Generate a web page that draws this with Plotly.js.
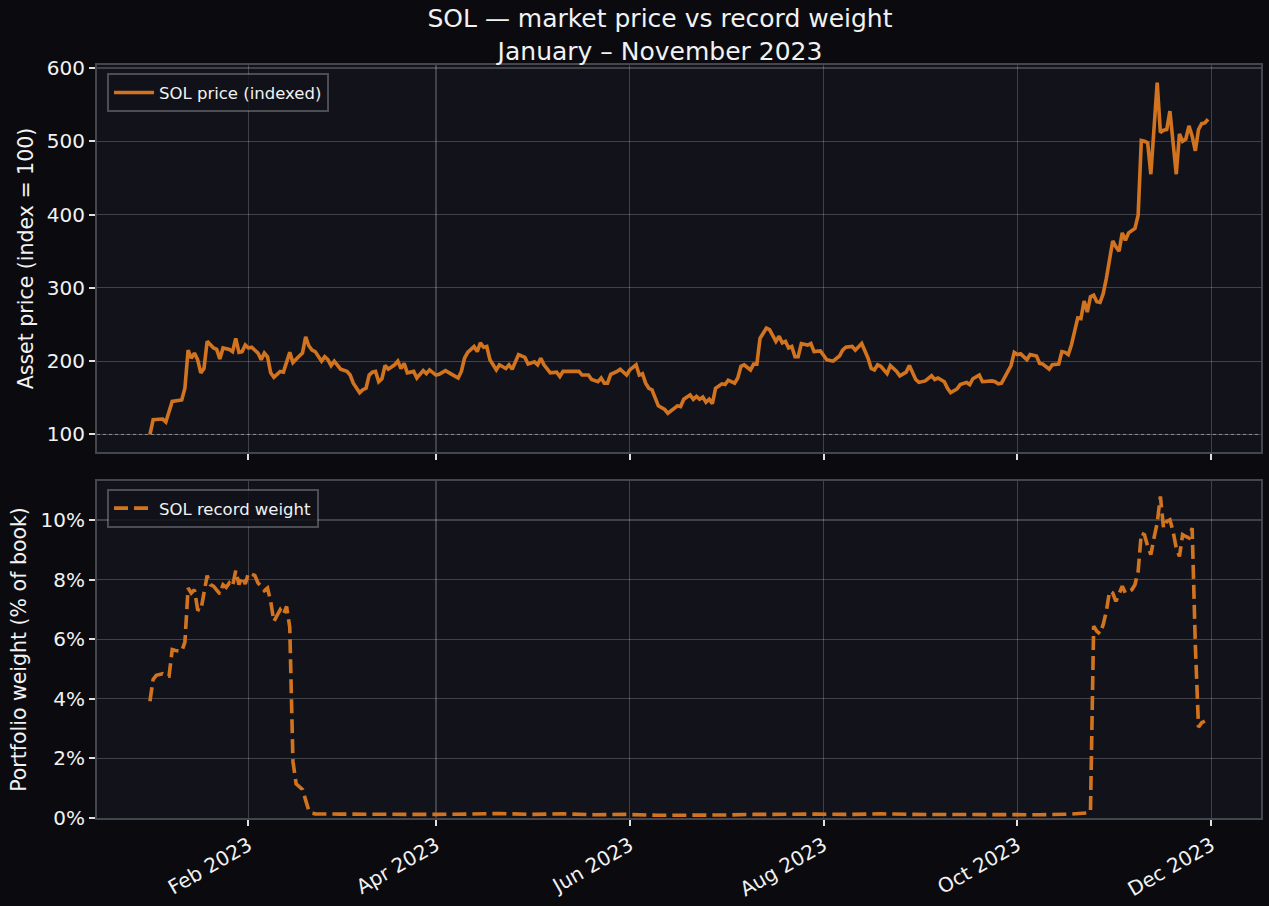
<!DOCTYPE html>
<html>
<head>
<meta charset="utf-8">
<script src="https://cdn.plot.ly/plotly-3.0.1.min.js"></script>
<style>
  html, body { margin: 0; padding: 0; background: #0b0b0f; }
  #chart { width: 1269px; height: 906px; }
</style>
</head>
<body>
<div id="chart"></div>
<script>
// Day offsets are days after 2023-01-01
const priceDay = [0,1,4,5,7,10,11,12,13,14,15,16,17,18,20,21,22,23,25,26,27,28,29,30,31,32,34,35,36,37,38,39,41,42,44,45,47,48,49,50,51,52,54,55,56,57,58,60,62,63,64,66,67,68,69,70,
  71,72,73,74,75,77,78,79,80,81,83,84,86,87,88,90,91,93,95,97,98,99,100,102,103,104,105,106,107,108,109,110,112,113,114,116,118,119,121,122,123,124,126,128,129,130,132,134,135,136,138,139,141,142,143,144,145,147,148,150,151,153,154,155,156,157,
  158,160,161,162,163,165,166,167,168,170,171,172,173,174,175,176,177,178,180,181,182,184,185,186,187,189,190,191,192,194,195,197,198,199,200,201,202,203,204,205,207,208,209,211,213,214,215,217,218,219,221,222,224,226,227,228,229,230,232,233,235,236,238,239,240,241,242,
  244,246,247,248,250,251,252,254,255,257,258,259,261,262,265,266,267,268,269,270,271,272,273,274,276,277,279,280,281,283,284,286,287,288,289,290,291,292,293,294,295,296,297,298,299,300,301,302,303,304,305,306,307,308,310,311,312,313,314,315,317,318,319,320,321,323,324,325,326,327,328,329,330,331,332,333];
const priceVal = [100,120,121,117,145,147,163,215,204,211,202,184,190,227,218,216,203,218,216,213,231,212,213,222,218,219,211,202,211,206,184,178,186,185,212,198,207,211,233,221,215,213,200,206,202,194,200,189,186,181,170,157,161,163,181,185,
  186,172,176,194,189,195,200,190,197,184,186,177,187,183,188,181,182,187,182,177,186,204,212,220,213,225,219,220,202,196,188,195,190,195,189,209,205,196,199,195,204,195,184,185,179,186,186,187,186,181,181,175,172,177,170,170,182,186,189,181,188,195,181,183,170,163,
  161,139,136,134,129,135,139,138,148,154,148,152,148,151,144,148,142,163,169,168,174,170,177,193,195,188,196,196,231,245,243,227,234,225,227,218,220,206,206,224,222,224,213,214,202,201,200,207,215,219,220,215,224,204,190,188,195,193,183,194,186,180,185,194,184,175,171,
  173,180,175,177,172,163,157,162,168,171,168,176,181,172,173,172,169,170,178,184,194,212,209,210,202,209,207,197,196,189,195,196,213,212,209,222,240,259,258,282,267,288,290,281,280,292,313,342,364,356,350,375,365,375,381,399,501,500,498,455,580,512,515,516,541,455,510,500,503,521,507,487,516,524,525,530];

const weightDay = [0,1,2,4,5,6,7,8,10,11,12,13,14,15,16,17,18,19,20,22,23,24,25,26,27,28,29,30,31,33,34,35,36,37,38,39,40,41,42,43,44,45,46,47,48,49,50,51,
  52,60,70,80,90,100,110,120,130,140,150,160,170,180,190,200,210,220,230,240,250,260,270,280,290,295,296,
  297,298,299,300,301,302,303,304,305,306,307,309,310,311,312,313,314,315,316,317,318,319,320,321,322,323,324,325,326,327,328,329,330,331,332];
const weightPct = [3.92,4.65,4.79,4.84,4.76,4.76,5.65,5.62,5.6,5.9,7.72,7.55,7.66,7.0,6.96,7.6,8.14,7.83,7.78,7.52,7.83,7.74,7.89,7.78,8.3,7.83,8.1,7.85,8.22,8.14,7.89,7.78,7.63,7.72,7.27,6.6,6.83,6.99,6.83,7.1,6.4,1.9,1.15,1.07,0.96,0.6,0.25,0.16,
  0.14,0.13,0.12,0.14,0.12,0.13,0.15,0.12,0.14,0.11,0.12,0.09,0.08,0.1,0.12,0.14,0.13,0.12,0.14,0.12,0.11,0.12,0.1,0.11,0.13,0.17,0.22,
  6.44,6.27,6.18,6.49,6.94,7.61,7.55,7.27,7.5,7.78,7.55,7.66,7.83,8.28,9.56,9.51,9.12,8.84,9.4,9.9,10.79,9.73,9.96,10.01,9.62,9.06,8.78,9.51,9.45,9.4,9.73,5.8,3.05,3.2,3.25,3.28];

const tickDates = ['2023-02-01','2023-04-01','2023-06-01','2023-08-01','2023-10-01','2023-12-01'];
const tickText = ['Feb 2023','Apr 2023','Jun 2023','Aug 2023','Oct 2023','Dec 2023'];
const priceTicks = [100,200,300,400,500,600];
const weightTicks = [0,2,4,6,8,10];
const weightTickText = ['0%','2%','4%','6%','8%','10%'];
const baseIndex = 100;

function toDate(d) {
  const t = new Date(Date.UTC(2023, 0, 1 + d));
  return t.toISOString().slice(0, 10);
}

const ORANGE = '#d2741f';
const GRID = 'rgba(255,255,255,0.2)';
const SPINE = '#44464e';
const TXT = '#f2f2f2';
const FONT = 'DejaVu Sans';
const xRange = ['2022-12-15 08:00', '2023-12-16 16:00'];

const traces = [
  {
    x: priceDay.map(toDate), y: priceVal, type: 'scatter', mode: 'lines',
    name: 'SOL price (indexed)', xaxis: 'x', yaxis: 'y', legend: 'legend',
    line: { color: ORANGE, width: 3.6 }
  },
  {
    x: weightDay.map(toDate), y: weightPct, type: 'scatter', mode: 'lines',
    name: 'SOL record weight', xaxis: 'x2', yaxis: 'y2', legend: 'legend2',
    line: { color: ORANGE, width: 3.6, dash: '14px,6px' }
  }
];

const axisCommon = {
  showgrid: true, gridcolor: GRID, gridwidth: 1.2,
  showline: true, linecolor: SPINE, linewidth: 2, mirror: true,
  ticks: 'outside', ticklen: 6, tickwidth: 2, tickcolor: '#e0e0e0',
  tickfont: { family: FONT, size: 20, color: TXT },
  zeroline: false
};

const legendCommon = {
  bgcolor: 'rgba(18,19,26,0.85)', bordercolor: 'rgba(255,255,255,0.25)', borderwidth: 2,
  font: { family: FONT, size: 16.5, color: TXT }, itemwidth: 40,
  xref: 'paper', yref: 'paper', xanchor: 'left', yanchor: 'top'
};

const layout = {
  width: 1269, height: 906,
  paper_bgcolor: '#0b0b0f', plot_bgcolor: '#12131a',
  font: { family: FONT, color: TXT },
  margin: { l: 97, r: 8, t: 65, b: 88 },
  showlegend: true,
  title: {
    text: 'SOL — market price vs record weight<br>January – November 2023',
    font: { family: FONT, size: 25, color: TXT },
    xref: 'container', x: 660 / 1269, xanchor: 'center',
    yref: 'container', y: 0.970, yanchor: 'top'
  },
  xaxis: Object.assign({}, axisCommon, {
    type: 'date', range: xRange, anchor: 'y', domain: [0, 1], matches: 'x2',
    tickvals: tickDates, ticktext: tickText, showticklabels: false
  }),
  yaxis: Object.assign({}, axisCommon, {
    domain: [0.486, 1], anchor: 'x', range: [76, 604],
    tickvals: priceTicks,
    title: { text: 'Asset price (index = 100)', font: { family: FONT, size: 20.5, color: TXT }, standoff: 8 }
  }),
  xaxis2: Object.assign({}, axisCommon, {
    type: 'date', range: xRange, anchor: 'y2', domain: [0, 1],
    tickvals: tickDates, ticktext: tickText, tickangle: -30
  }),
  yaxis2: Object.assign({}, axisCommon, {
    domain: [0, 0.4475], anchor: 'x2', range: [0, 11.31],
    tickvals: weightTicks, ticktext: weightTickText,
    title: { text: 'Portfolio weight (% of book)', font: { family: FONT, size: 20.5, color: TXT }, standoff: 8 }
  }),
  legend: Object.assign({}, legendCommon, { x: 0.0086, y: 0.989 }),
  legend2: Object.assign({}, legendCommon, { x: 0.0086, y: 0.437 }),
  shapes: [
    { type: 'line', xref: 'paper', yref: 'y', x0: 0, x1: 1, y0: baseIndex, y1: baseIndex,
      line: { color: 'rgba(200,200,200,0.55)', width: 1, dash: 'dot' }, layer: 'below' }
  ]
};

Plotly.newPlot('chart', traces, layout, { staticPlot: true, displayModeBar: false });
</script>
</body>
</html>
